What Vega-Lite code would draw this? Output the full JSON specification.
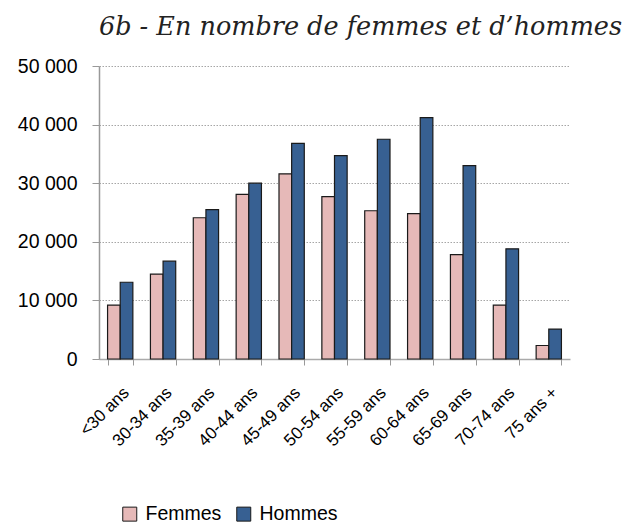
{
  "$schema": "https://vega.github.io/schema/vega-lite/v6.json",
  "autosize": "none",
  "width": 471,
  "height": 293,
  "padding": {"left": 99, "top": 66, "right": 57, "bottom": 165},
  "background": "white",
  "title": {
    "text": "6b - En nombre de femmes et d’hommes",
    "anchor": "end",
    "frame": "group",
    "dx": 52,
    "offset": 16,
    "font": "DejaVu Serif",
    "fontStyle": "italic",
    "fontWeight": "normal",
    "fontSize": 25.5,
    "color": "#222222"
  },
  "data": {
    "values": [
      {"age": "<30 ans", "sexe": "Femmes", "n": 9200},
      {"age": "<30 ans", "sexe": "Hommes", "n": 13100},
      {"age": "30-34 ans", "sexe": "Femmes", "n": 14500},
      {"age": "30-34 ans", "sexe": "Hommes", "n": 16700},
      {"age": "35-39 ans", "sexe": "Femmes", "n": 24100},
      {"age": "35-39 ans", "sexe": "Hommes", "n": 25500},
      {"age": "40-44 ans", "sexe": "Femmes", "n": 28100},
      {"age": "40-44 ans", "sexe": "Hommes", "n": 30000},
      {"age": "45-49 ans", "sexe": "Femmes", "n": 31600},
      {"age": "45-49 ans", "sexe": "Hommes", "n": 36800},
      {"age": "50-54 ans", "sexe": "Femmes", "n": 27700},
      {"age": "50-54 ans", "sexe": "Hommes", "n": 34700},
      {"age": "55-59 ans", "sexe": "Femmes", "n": 25300},
      {"age": "55-59 ans", "sexe": "Hommes", "n": 37500},
      {"age": "60-64 ans", "sexe": "Femmes", "n": 24800},
      {"age": "60-64 ans", "sexe": "Hommes", "n": 41200},
      {"age": "65-69 ans", "sexe": "Femmes", "n": 17800},
      {"age": "65-69 ans", "sexe": "Hommes", "n": 33000},
      {"age": "70-74 ans", "sexe": "Femmes", "n": 9200},
      {"age": "70-74 ans", "sexe": "Hommes", "n": 18800},
      {"age": "75 ans +", "sexe": "Femmes", "n": 2300},
      {"age": "75 ans +", "sexe": "Hommes", "n": 5100}
    ]
  },
  "mark": {"type": "bar", "stroke": "#1a1a1a", "strokeWidth": 1.2},
  "encoding": {
    "x": {
      "field": "age",
      "type": "nominal",
      "sort": null,
      "title": null,
      "scale": {"paddingInner": 0.41, "paddingOuter": 0.2},
      "axis": {
        "labelAngle": -45,
        "labelFont": "Liberation Sans",
        "labelFontSize": 17,
        "labelColor": "#000000",
        "labelPadding": 19,
        "tickBand": "extent",
        "tickColor": "#999999",
        "tickSize": 6,
        "domainColor": "#aaaaaa",
        "domainWidth": 1.5,
        "grid": false
      }
    },
    "xOffset": {"field": "sexe", "type": "nominal", "scale": {"paddingInner": 0, "paddingOuter": 0}},
    "y": {
      "field": "n",
      "type": "quantitative",
      "title": null,
      "scale": {"domain": [0, 50000], "nice": false},
      "axis": {
        "values": [0, 10000, 20000, 30000, 40000, 50000],
        "labelExpr": "replace(format(datum.value, ','), ',', ' ')",
        "labelFont": "Liberation Sans",
        "labelFontSize": 19.5,
        "labelColor": "#000000",
        "labelPadding": 15,
        "tickSize": 7,
        "tickColor": "#999999",
        "domainColor": "#999999",
        "domainWidth": 1.5,
        "grid": true,
        "gridColor": "#a6a6a6",
        "gridDash": [1.5, 1.5],
        "gridWidth": 1
      }
    },
    "color": {
      "field": "sexe",
      "type": "nominal",
      "scale": {"domain": ["Femmes", "Hommes"], "range": ["#E6B9B8", "#376092"]},
      "legend": {
        "title": null,
        "orient": "none",
        "direction": "horizontal",
        "legendX": 21,
        "legendY": 438,
        "symbolType": "square",
        "symbolSize": 196,
        "symbolStrokeColor": "#1a1a1a",
        "symbolStrokeWidth": 1,
        "labelFont": "Liberation Sans",
        "labelFontSize": 19.5,
        "labelColor": "#000000",
        "columnPadding": 12,
        "labelOffset": 6
      }
    }
  },
  "config": {"view": {"stroke": null}}
}
